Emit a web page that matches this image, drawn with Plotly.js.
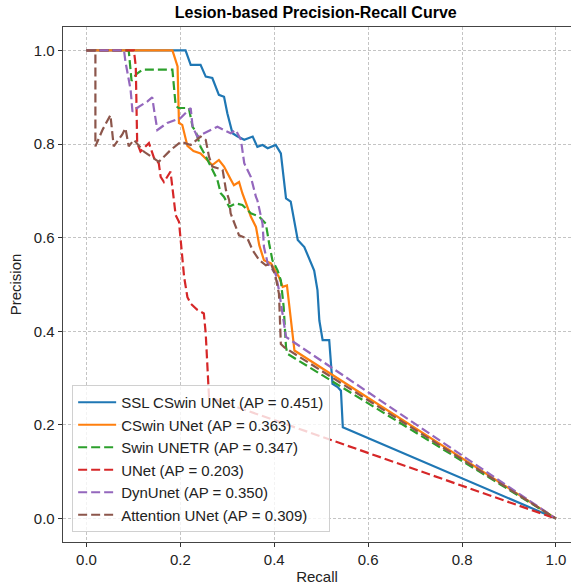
<!DOCTYPE html>
<html>
<head>
<meta charset="utf-8">
<script src="https://cdn.plot.ly/plotly-3.0.1.min.js"></script>
<style>html,body{margin:0;padding:0;background:#fff;}#chart{width:571px;height:588px;}</style>
</head>
<body>
<div id="chart"></div>
<script>
// ---- data ----
const modelNames = [
  "SSL CSwin UNet (AP = 0.451)",
  "CSwin UNet (AP = 0.363)",
  "Swin UNETR (AP = 0.347)",
  "UNet (AP = 0.203)",
  "DynUnet (AP = 0.350)",
  "Attention UNet (AP = 0.309)"
];

const sslRecall    = [0, 0.211, 0.222, 0.243, 0.254, 0.268, 0.282, 0.293, 0.300, 0.311, 0.322, 0.336, 0.354, 0.364, 0.375, 0.386, 0.403, 0.414, 0.425, 0.435, 0.450, 0.464, 0.485, 0.492, 0.496, 0.503, 0.517, 0.524, 0.535, 0.542, 0.546, 1.0];
const sslPrecision = [1, 1.000, 0.969, 0.969, 0.944, 0.941, 0.905, 0.901, 0.866, 0.823, 0.816, 0.809, 0.816, 0.794, 0.798, 0.791, 0.798, 0.780, 0.684, 0.677, 0.595, 0.580, 0.530, 0.488, 0.423, 0.381, 0.381, 0.288, 0.281, 0.273, 0.195, 0.0];

const cswinRecall    = [0, 0.183, 0.186, 0.194, 0.197, 0.204, 0.215, 0.228, 0.243, 0.258, 0.268, 0.282, 0.293, 0.307, 0.314, 0.325, 0.332, 0.343, 0.350, 0.361, 0.368, 0.378, 0.393, 0.410, 0.418, 0.427, 0.432, 0.439, 0.443, 1.0];
const cswinPrecision = [1, 1.000, 0.991, 0.966, 0.845, 0.841, 0.796, 0.785, 0.780, 0.766, 0.755, 0.766, 0.752, 0.725, 0.712, 0.719, 0.695, 0.665, 0.645, 0.623, 0.584, 0.552, 0.545, 0.516, 0.495, 0.498, 0.452, 0.395, 0.359, 0.0];

const swinRecall    = [0, 0.090, 0.096, 0.107, 0.120, 0.183, 0.190, 0.196, 0.218, 0.226, 0.233, 0.243, 0.256, 0.268, 0.279, 0.286, 0.293, 0.304, 0.318, 0.332, 0.350, 0.368, 0.382, 0.389, 0.396, 0.407, 0.414, 0.420, 0.425, 0.428, 1.0];
const swinPrecision = [1, 1.000, 0.935, 0.950, 0.959, 0.959, 0.882, 0.877, 0.877, 0.837, 0.826, 0.794, 0.770, 0.745, 0.723, 0.695, 0.687, 0.666, 0.673, 0.670, 0.652, 0.645, 0.630, 0.588, 0.552, 0.530, 0.509, 0.452, 0.366, 0.352, 0.0];

const unetRecall    = [0, 0.101, 0.105, 0.108, 0.115, 0.133, 0.144, 0.154, 0.158, 0.165, 0.179, 0.186, 0.190, 0.197, 0.201, 0.208, 0.215, 0.222, 0.236, 0.250, 0.254, 0.258, 0.261, 1.0];
const unetPrecision = [1, 1.000, 0.966, 0.802, 0.784, 0.802, 0.770, 0.759, 0.730, 0.719, 0.741, 0.687, 0.648, 0.634, 0.595, 0.516, 0.473, 0.459, 0.446, 0.438, 0.395, 0.323, 0.259, 0.0];

const dynRecall    = [0, 0.080, 0.083, 0.094, 0.098, 0.112, 0.130, 0.140, 0.144, 0.151, 0.172, 0.201, 0.222, 0.226, 0.236, 0.258, 0.279, 0.293, 0.307, 0.318, 0.329, 0.336, 0.350, 0.361, 0.364, 0.375, 0.378, 0.386, 0.403, 0.410, 0.418, 0.425, 1.0];
const dynPrecision = [1, 1.000, 0.976, 0.916, 0.869, 0.880, 0.891, 0.900, 0.873, 0.830, 0.845, 0.856, 0.877, 0.837, 0.816, 0.827, 0.837, 0.830, 0.823, 0.830, 0.809, 0.759, 0.730, 0.687, 0.680, 0.630, 0.580, 0.545, 0.523, 0.488, 0.438, 0.388, 0.0];

const attRecall    = [0, 0.019, 0.019, 0.034, 0.051, 0.058, 0.076, 0.083, 0.090, 0.101, 0.122, 0.137, 0.154, 0.179, 0.201, 0.222, 0.243, 0.254, 0.261, 0.268, 0.290, 0.297, 0.304, 0.307, 0.325, 0.343, 0.354, 0.368, 0.382, 0.393, 0.403, 0.410, 0.414, 0.421, 1.0];
const attPrecision = [1, 1.000, 0.795, 0.830, 0.862, 0.795, 0.820, 0.834, 0.795, 0.809, 0.784, 0.774, 0.762, 0.787, 0.805, 0.798, 0.816, 0.809, 0.773, 0.752, 0.745, 0.702, 0.680, 0.652, 0.605, 0.598, 0.573, 0.552, 0.541, 0.545, 0.516, 0.480, 0.373, 0.366, 0.0];

const tickValues = [0, 0.2, 0.4, 0.6, 0.8, 1.0];
const tickLabels = ["0.0", "0.2", "0.4", "0.6", "0.8", "1.0"];

// ---- styles ----
const colors = ["#1f77b4", "#ff7f0e", "#2ca02c", "#d62728", "#9467bd", "#8c564b"];
const dashes = ["solid", "solid", "9px,4px", "9px,4px", "9px,4px", "9px,4px"];
const series = [
  [sslRecall, sslPrecision],
  [cswinRecall, cswinPrecision],
  [swinRecall, swinPrecision],
  [unetRecall, unetPrecision],
  [dynRecall, dynPrecision],
  [attRecall, attPrecision]
];

const traces = series.map((s, i) => ({
  type: "scatter",
  mode: "lines",
  x: s[0],
  y: s[1],
  name: modelNames[i],
  line: {color: colors[i], width: 2.2, dash: dashes[i]},
  hoverinfo: "skip"
}));

const fontFam = "'Liberation Sans', Arial, sans-serif";
const axisCommon = {
  tickvals: tickValues,
  ticktext: tickLabels,
  ticks: "outside",
  ticklen: 4,
  tickwidth: 1,
  tickcolor: "#333",
  tickfont: {family: fontFam, size: 15, color: "#222"},
  showgrid: true,
  gridcolor: "#c4c4c4",
  gridwidth: 1,
  griddash: "3px,2px",
  zeroline: false,
  showline: true,
  linecolor: "#444",
  linewidth: 1.3,
  automargin: false
};

const layout = {
  width: 571,
  height: 588,
  margin: {l: 62.5, r: 0, t: 27.3, b: 46.3, pad: 0},
  paper_bgcolor: "#ffffff",
  plot_bgcolor: "#ffffff",
  font: {family: fontFam, color: "#222"},
  title: {
    text: "<b>Lesion-based Precision-Recall Curve</b>",
    font: {family: fontFam, size: 16, color: "#000"},
    xref: "container", x: 0.553, xanchor: "center",
    yref: "container", y: 0.979, yanchor: "middle"
  },
  xaxis: Object.assign({}, axisCommon, {
    range: [-0.05, 1.032],
    mirror: true,
    title: {text: "Recall", font: {family: fontFam, size: 15, color: "#222"}, standoff: 4}
  }),
  yaxis: Object.assign({}, axisCommon, {
    range: [-0.05, 1.05],
    title: {text: "Precision", font: {family: fontFam, size: 15, color: "#222"}, standoff: 8}
  }),
  showlegend: true,
  legend: {
    x: 0.018, y: 0.0194, xanchor: "left", yanchor: "bottom",
    bgcolor: "rgba(255,255,255,0.8)",
    bordercolor: "#d0d0d0",
    borderwidth: 1,
    font: {family: fontFam, size: 15, color: "#222"},
    itemwidth: 38,
    traceorder: "normal"
  }
};

Plotly.newPlot("chart", traces, layout, {staticPlot: true, displayModeBar: false});
</script>
</body>
</html>
